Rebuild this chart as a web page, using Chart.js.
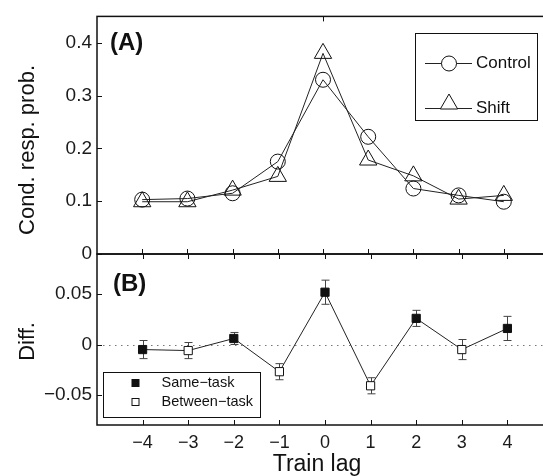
<!DOCTYPE html>
<html>
<head>
<meta charset="utf-8">
<script src="https://cdn.jsdelivr.net/npm/chart.js@4/dist/chart.umd.min.js"></script>
<style>
  html, body { margin: 0; padding: 0; background: #fff; overflow: hidden; width: 543px; height: 476px; }
  #wrap { position: relative; width: 560px; height: 476px; }
  canvas { position: absolute; left: 0; top: 0; }
</style>
</head>
<body>
<div id="wrap">
  <canvas id="chartA" width="560" height="476"></canvas>
  <canvas id="chartB" width="560" height="476"></canvas>
</div>
<script>
// --- data ---
const lags = [-4, -3, -2, -1, 0, 1, 2, 3, 4];
const controlProb = [0.103, 0.105, 0.115, 0.175, 0.330, 0.222, 0.124, 0.111, 0.099];
const shiftProb = [0.099, 0.099, 0.121, 0.147, 0.380, 0.178, 0.148, 0.104, 0.111];

const diffValues = [-0.005, -0.006, 0.006, -0.027, 0.052, -0.041, 0.026, -0.005, 0.016];
const diffErrors = [0.009, 0.008, 0.006, 0.008, 0.012, 0.008, 0.008, 0.010, 0.012];
const diffTask = ['same', 'between', 'same', 'between', 'same', 'between', 'same', 'between', 'same'];

const probTicks = [0, 0.1, 0.2, 0.3, 0.4];
const diffTicks = [-0.05, 0, 0.05];
const topTickLagsA = [0];

Chart.defaults.font.family = "'Liberation Sans', Arial, Helvetica, sans-serif";
Chart.defaults.color = '#1a1a1a';

const INK = '#111';
const fmt = v => v === 0 ? '0' : (v < 0 ? '\u2212' + String(-v) : String(v));

// frame, inward ticks, titles
const framePlugin = (opts) => ({
    id: 'frame' + opts.name,
    afterDraw(chart) {
        const { ctx, chartArea: a, scales } = chart;
        ctx.save();
        ctx.strokeStyle = INK;
        ctx.lineWidth = 1.5;
        ctx.strokeRect(a.left, a.top, a.right - a.left, a.bottom - a.top);

        ctx.lineWidth = 1;
        ctx.beginPath();
        opts.yTicks.forEach(v => {
            const py = Math.round(scales.y.getPixelForValue(v)) + 0.5;
            ctx.moveTo(a.left, py); ctx.lineTo(a.left + 5, py);
        });
        opts.topTicks.forEach(v => {
            const px = Math.round(scales.x.getPixelForValue(v)) + 0.5;
            ctx.moveTo(px, a.top); ctx.lineTo(px, a.top + 5);
        });
        opts.bottomTicks.forEach(v => {
            const px = Math.round(scales.x.getPixelForValue(v)) + 0.5;
            ctx.moveTo(px, a.bottom); ctx.lineTo(px, a.bottom - 5);
        });
        ctx.stroke();

        // panel tag
        ctx.fillStyle = INK;
        ctx.font = "bold 24px 'Liberation Sans', Arial, sans-serif";
        ctx.textAlign = 'left';
        ctx.textBaseline = 'alphabetic';
        ctx.fillText(opts.tag, opts.tagX, opts.tagY);

        // rotated y title
        ctx.font = "22px 'Liberation Sans', Arial, sans-serif";
        ctx.save();
        ctx.translate(33.5, opts.titleY);
        ctx.rotate(-Math.PI / 2);
        ctx.textAlign = 'center';
        ctx.fillText(opts.title, 0, 0);
        ctx.restore();

        if (opts.xTitle) {
            ctx.font = "23px 'Liberation Sans', Arial, sans-serif";
            ctx.textAlign = 'center';
            ctx.fillText(opts.xTitle, 317, 471);
        }
        ctx.restore();
    }
});

// panel A legend
const legendA = {
    id: 'legendA',
    afterDraw(chart) {
        const { ctx } = chart;
        ctx.save();
        ctx.fillStyle = '#fff';
        ctx.strokeStyle = INK;
        ctx.lineWidth = 1;
        ctx.fillRect(415.5, 33.5, 122, 87);
        ctx.strokeRect(415.5, 33.5, 122, 87);

        ctx.strokeStyle = '#222';
        ctx.beginPath();
        ctx.moveTo(425, 63.5); ctx.lineTo(472, 63.5);
        ctx.moveTo(425, 108.5); ctx.lineTo(472, 108.5);
        ctx.stroke();

        ctx.fillStyle = '#fff';
        ctx.strokeStyle = INK;
        ctx.beginPath();
        ctx.arc(449, 63.5, 7.5, 0, Math.PI * 2);
        ctx.fill(); ctx.stroke();

        const r = 10, cy = 104;
        ctx.beginPath();
        ctx.moveTo(449, cy - r);
        ctx.lineTo(449 + r * Math.sin(2 * Math.PI / 3), cy - r * Math.cos(2 * Math.PI / 3));
        ctx.lineTo(449 - r * Math.sin(2 * Math.PI / 3), cy - r * Math.cos(2 * Math.PI / 3));
        ctx.closePath();
        ctx.fill(); ctx.stroke();

        ctx.fillStyle = INK;
        ctx.font = "17px 'Liberation Sans', Arial, sans-serif";
        ctx.textAlign = 'left';
        ctx.textBaseline = 'middle';
        ctx.fillText('Control', 476, 63.5);
        ctx.fillText('Shift', 476, 108);
        ctx.restore();
    }
};

// panel B: zero line + error bars behind the markers, legend on top
const diffExtras = {
    id: 'diffExtras',
    beforeDatasetsDraw(chart) {
        const { ctx, chartArea: a, scales: { x, y } } = chart;
        ctx.save();
        const y0 = Math.round(y.getPixelForValue(0)) + 0.5;
        ctx.strokeStyle = '#777';
        ctx.lineWidth = 1;
        ctx.setLineDash([1.5, 4.5]);
        ctx.beginPath();
        ctx.moveTo(a.left, y0); ctx.lineTo(a.right, y0);
        ctx.stroke();
        ctx.setLineDash([]);

        ctx.strokeStyle = '#444';
        ctx.beginPath();
        lags.forEach((lag, i) => {
            const px = Math.round(x.getPixelForValue(lag)) + 0.5;
            const hi = y.getPixelForValue(diffValues[i] + diffErrors[i]);
            const lo = y.getPixelForValue(diffValues[i] - diffErrors[i]);
            ctx.moveTo(px, hi); ctx.lineTo(px, lo);
            ctx.moveTo(px - 4, hi); ctx.lineTo(px + 4, hi);
            ctx.moveTo(px - 4, lo); ctx.lineTo(px + 4, lo);
        });
        ctx.stroke();
        ctx.restore();
    },
    afterDraw(chart) {
        const { ctx } = chart;
        ctx.save();
        ctx.fillStyle = '#fff';
        ctx.strokeStyle = INK;
        ctx.lineWidth = 1;
        ctx.fillRect(103.5, 372.5, 157, 45);
        ctx.strokeRect(103.5, 372.5, 157, 45);

        ctx.fillStyle = INK;
        ctx.fillRect(131.5, 379, 8, 8);
        ctx.fillStyle = '#fff';
        ctx.fillRect(132, 398.5, 7, 7);
        ctx.strokeRect(132, 398.5, 7, 7);

        ctx.fillStyle = INK;
        ctx.font = "14.5px 'Liberation Sans', Arial, sans-serif";
        ctx.textAlign = 'left';
        ctx.textBaseline = 'middle';
        ctx.fillText('Same\u2212task', 161.5, 383);
        ctx.fillText('Between\u2212task', 161.5, 402);
        ctx.restore();
    }
};

const hiddenX = {
    type: 'linear', min: -5, max: 5, display: false
};

new Chart(document.getElementById('chartA'), {
    type: 'line',
    data: {
        datasets: [
            {
                label: 'Control',
                data: lags.map((lag, i) => ({ x: lag, y: controlProb[i] })),
                borderColor: '#222',
                borderWidth: 1,
                pointStyle: 'circle',
                pointRadius: 7.5,
                pointBorderColor: INK,
                pointBorderWidth: 1,
                pointBackgroundColor: 'rgba(255,255,255,0)'
            },
            {
                label: 'Shift',
                data: lags.map((lag, i) => ({ x: lag, y: shiftProb[i] })),
                borderColor: '#222',
                borderWidth: 1,
                pointStyle: 'triangle',
                pointRadius: 10,
                pointBorderColor: INK,
                pointBorderWidth: 1,
                pointBackgroundColor: 'rgba(255,255,255,0)'
            }
        ]
    },
    options: {
        responsive: false,
        animation: false,
        events: [],
        layout: { padding: { top: 12, right: 7, bottom: 222, left: 0 } },
        plugins: { legend: { display: false }, tooltip: { enabled: false } },
        scales: {
            x: hiddenX,
            y: {
                min: 0, max: 0.45,
                afterBuildTicks: s => { s.ticks = probTicks.map(v => ({ value: v })); },
                afterFit: s => { s.width = 97; },
                ticks: { callback: v => fmt(v), padding: 5, font: { size: 19 } },
                grid: { display: false, drawTicks: false },
                border: { display: false }
            }
        }
    },
    plugins: [legendA, framePlugin({
        name: 'A', yTicks: probTicks, topTicks: topTickLagsA, bottomTicks: lags,
        tag: '(A)', tagX: 110, tagY: 49.5, title: 'Cond. resp. prob.', titleY: 150
    })]
});

new Chart(document.getElementById('chartB'), {
    type: 'line',
    data: {
        datasets: [{
            label: 'Diff.',
            data: lags.map((lag, i) => ({ x: lag, y: diffValues[i] })),
            borderColor: '#222',
            borderWidth: 1,
            pointStyle: 'rect',
            pointRadius: 5.8,
            pointBorderColor: INK,
            pointBorderWidth: 1,
            pointBackgroundColor: diffTask.map(t => t === 'same' ? INK : '#fff')
        }]
    },
    options: {
        responsive: false,
        animation: false,
        events: [],
        layout: { padding: { top: 254, right: 7, bottom: 0, left: 0 } },
        plugins: { legend: { display: false }, tooltip: { enabled: false } },
        scales: {
            x: {
                type: 'linear', min: -5, max: 5,
                afterBuildTicks: s => { s.ticks = lags.map(v => ({ value: v })); },
                afterFit: s => { s.height = 51; },
                ticks: { callback: v => fmt(v), padding: 7, font: { size: 18 }, maxRotation: 0, autoSkip: false },
                grid: { display: false, drawTicks: false },
                border: { display: false }
            },
            y: {
                min: -0.08, max: 0.09,
                afterBuildTicks: s => { s.ticks = diffTicks.map(v => ({ value: v })); },
                afterFit: s => { s.width = 97; },
                ticks: { callback: v => fmt(v), padding: 5, font: { size: 19 } },
                grid: { display: false, drawTicks: false },
                border: { display: false }
            }
        }
    },
    plugins: [diffExtras, framePlugin({
        name: 'B', yTicks: diffTicks, topTicks: lags, bottomTicks: lags,
        tag: '(B)', tagX: 113, tagY: 290.5, title: 'Diff.', titleY: 341.5, xTitle: 'Train lag'
    })]
});
</script>
</body>
</html>
